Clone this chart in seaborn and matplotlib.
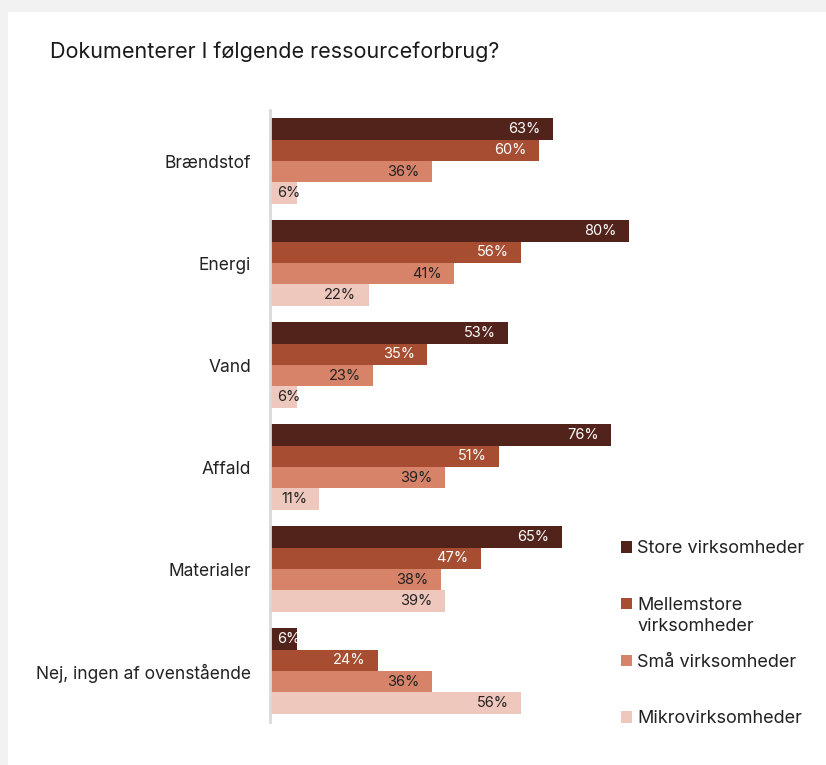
import matplotlib
matplotlib.use("Agg")
import matplotlib.pyplot as plt
import seaborn as sns
import pandas as pd
from matplotlib.patches import Rectangle
from matplotlib.transforms import offset_copy

categories = ["Brændstof", "Energi", "Vand", "Affald", "Materialer", "Nej, ingen af ovenstående"]
series = ["Store virksomheder", "Mellemstore virksomheder", "Små virksomheder", "Mikrovirksomheder"]
legend_labels = ["Store virksomheder", "Mellemstore", "Små virksomheder", "Mikrovirksomheder"]
legend_extra = "virksomheder"
store = [63, 80, 53, 76, 65, 6]
mellem = [60, 56, 35, 51, 47, 24]
smaa = [36, 41, 23, 39, 38, 36]
mikro = [6, 22, 6, 11, 39, 56]
colors = ["#52231A", "#A64D32", "#D6836A", "#EEC8BC"]
label_colors = ["white", "white", "#222222", "#222222"]

rows = []
for s, vals in zip(series, [store, mellem, smaa, mikro]):
    for c, v in zip(categories, vals):
        rows.append({"Kategori": c, "Serie": s, "Andel": v})
df = pd.DataFrame(rows)

sns.set_theme(style="white")
plt.rcParams["font.family"] = ["Inter", "DejaVu Sans"]

fig = plt.figure(figsize=(8.26, 7.65), dpi=100)
fig.patch.set_facecolor("#f2f2f2")
fig.add_artist(Rectangle((8 / 826, 0), 1, 1 - 12 / 765, transform=fig.transFigure,
                         facecolor="white", edgecolor="none", zorder=0))

ax = fig.add_axes([270 / 826, 1 - 722 / 765, 370 / 826, 612 / 765])
ax.set_facecolor("none")
sns.barplot(data=df, y="Kategori", x="Andel", hue="Serie", order=categories,
            hue_order=series, palette=colors, orient="h", width=0.84, gap=0,
            saturation=1, linewidth=0, ax=ax, legend=True)

ax.set_xlim(0, 82.4)
ax.set_ylim(5.5, -0.5)
ax.set_xlabel("")
ax.set_ylabel("")
ax.set_xticks([])
ax.tick_params(axis="y", length=0, pad=13.5, labelsize=12.5, labelcolor="#222222")
for sp in ["top", "right", "bottom"]:
    ax.spines[sp].set_visible(False)
ax.spines["left"].set_color("#d9d9d9")
ax.spines["left"].set_linewidth(2)

for i, cont in enumerate(ax.containers):
    for bar in cont:
        w = bar.get_width()
        yc = bar.get_y() + bar.get_height() / 2
        txt = f"{w:.0f}%"
        if w < 10:
            ax.annotate(txt, xy=(0, yc), xytext=(5, 0), textcoords="offset points",
                        ha="left", va="center", fontsize=10.5, color=label_colors[i])
        else:
            ax.annotate(txt, xy=(w, yc), xytext=(-9, 0), textcoords="offset points",
                        ha="right", va="center", fontsize=10.5, color=label_colors[i])

handles, _ = ax.get_legend_handles_labels()
ax.legend_.remove()
leg = fig.legend(handles, legend_labels, loc="upper left", bbox_to_anchor=(614 / 826, 1 - 533 / 765),
                 frameon=False, fontsize=13, handlelength=0.6, handleheight=0.6,
                 handletextpad=0.3, labelspacing=2.2, labelcolor="#222222", borderaxespad=0)

fig.text(50 / 826, 1 - 52 / 765, "Dokumenterer I følgende ressourceforbrug?",
         fontsize=15.5, color="#1a1a1a", va="center", ha="left")

# second line of the "Mellemstore virksomheder" legend entry
fig.canvas.draw()
t = leg.get_texts()[1]
bb = t.get_window_extent()
x0, y0 = fig.transFigure.inverted().transform((bb.x0, bb.y0))
fig.text(x0, y0, legend_extra, fontsize=13, color="#222222", ha="left", va="top",
         transform=offset_copy(fig.transFigure, fig=fig, x=0, y=-3, units="points"))

fig.savefig("out.png", dpi=100)
